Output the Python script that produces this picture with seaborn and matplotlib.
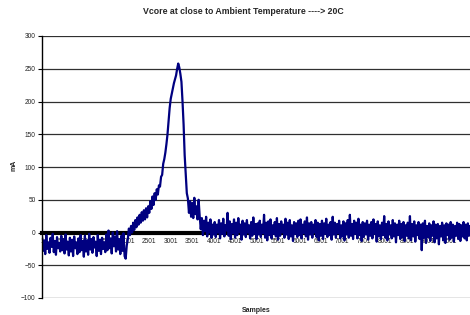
import numpy as np
import pandas as pd
import matplotlib
matplotlib.use("Agg")
import matplotlib.pyplot as plt
import seaborn as sns

# samples 1, 26, 51, ... (one value per 25 samples)
samples = np.arange(1, 10001, 25)

current_ma = [
    # 1 - 476
    -6, -28, -12, -33, -4, -25, -15, -31, -8, -22, -2, -30, -13, -34, -7, -24, -16, -29, -5, -27,
    # 501 - 976
    -10, -32, -3, -26, -14, -35, -8, -29, -11, -36, -6, -24, -15, -33, -9, -30, -4, -27, -13, -37,
    # 1001 - 1476
    -5, -29, -12, -34, -2, -26, -10, -31, -7, -23, -14, -36, -4, -28, -11, -33, -8, -25, -15, -30,
    # 1501 - 1976
    -3, -27, 3, -24, -9, -32, 0, -21, -6, -29, 2, -26, -10, -33, -5, -28, -1, -36, -40, -20,
    # 2001 - 2476
    -10, 6, -4, 10, 0, 15, 4, 19, 8, 23, 12, 27, 15, 31, 18, 34, 20, 37, 23, 40,
    # 2501 - 2976
    30, 48, 36, 55, 42, 60, 50, 66, 58, 72, 70, 85, 88, 105, 112, 122, 135, 150, 170, 190,
    # 3001 - 3476
    204, 212, 220, 228, 234, 240, 250, 258, 252, 242, 230, 200, 165, 118, 90, 60, 52, 30, 48, 24,
    # 3501 - 3976
    45, 22, 53, 28, 40, 20, 50, 25, 5, 22, -4, 18, 2, 24, -6, 15, 0, 20, -8, 12,
    # 4001 - 4476
    -3, 16, -7, 12, 0, 19, -9, 14, -2, 21, -6, 11, 3, 30, -5, 17, -10, 13, -1, 20,
    # 4501 - 4976
    -8, 15, -4, 22, 1, 12, -11, 18, -3, 14, -7, 19, 0, 11, -9, 16, -5, 23, -2, 13,
    # 5001 - 5476
    -10, 14, -3, 18, -7, 12, -1, 27, -8, 15, -12, 17, -4, 20, -9, 11, -2, 16, -6, 22,
    # 5501 - 5976
    -11, 13, -5, 17, 0, 12, -8, 21, -3, 15, -10, 19, -6, 11, -13, 16, -2, 14, -7, 18,
    # 6001 - 6476
    -4, 20, -9, 12, -1, 17, -6, 23, -11, 14, -3, 16, -8, 12, 0, 19, -7, 15, -12, 13,
    # 6501 - 6976
    -5, 18, -10, 14, -2, 21, -7, 12, -4, 16, -11, 24, -3, 15, -8, 13, -1, 18, -9, 11,
    # 7001 - 7476
    -6, 17, -12, 14, -3, 19, -8, 27, -5, 13, -10, 18, -2, 15, -9, 21, -4, 12, -13, 16,
    # 7501 - 7976
    -7, 14, -3, 18, -11, 12, -5, 16, -9, 20, -2, 13, -14, 17, -6, 11, -10, 15, -4, 25,
    # 8001 - 8476
    -8, 13, -12, 17, -3, 11, -9, 19, -6, 14, -15, 12, -4, 18, -10, 13, -7, 16, -13, 11,
    # 8501 - 8976
    -5, 15, -9, 25, -12, 13, -6, 17, -14, 11, -4, 16, -10, 12, -27, 14, -8, 18, -16, 10,
    # 9001 - 9476
    -7, 14, -13, 11, -5, 17, -15, 12, -9, 13, -18, 10, -6, 15, -12, 11, -16, 14, -4, 12,
    # 9501 - 9976
    -11, 16, -8, 12, -14, 10, -5, 15, -10, 13, -13, 11, -6, 16, -9, 12, -12, 14, -5, 10,
]

x_ticks = np.arange(1, 10000, 500)
x_labels = [str(t) for t in x_ticks]
y_ticks = list(range(-100, 301, 50))


def main():
    df = pd.DataFrame({"Samples": samples, "mA": current_ma})

    sns.set_style("white")
    plt.rcParams["font.family"] = ["Liberation Sans", "DejaVu Sans"]

    fig = plt.figure(figsize=(4.7, 3.15), dpi=100)
    ax = fig.add_axes([42 / 470, 17 / 315, 428 / 470, 262 / 315])

    sns.lineplot(data=df, x="Samples", y="mA", color="#000080",
                 linewidth=1.6, ax=ax, zorder=2)

    ax.set_xlim(1, 9976)
    ax.set_ylim(-100, 300)
    ax.set_axisbelow(True)
    ax.set_yticks(y_ticks)
    ax.yaxis.grid(True, color="#303030", linewidth=0.9)
    ax.xaxis.grid(False)

    # category axis crosses at 0, like Excel
    ax.spines["bottom"].set_position(("data", 0))
    ax.spines["bottom"].set_linewidth(3)
    ax.spines["bottom"].set_color("black")
    ax.spines["bottom"].set_zorder(1)
    ax.spines["left"].set_color("black")
    ax.spines["left"].set_linewidth(1)
    ax.spines["top"].set_visible(False)
    ax.spines["right"].set_visible(False)

    ax.set_xticks(x_ticks)
    ax.set_xticklabels(x_labels)
    ax.tick_params(axis="x", labelsize=4.7, length=2.5, width=0.8,
                   pad=1.5, colors="black", labelcolor="#222222")
    ax.tick_params(axis="y", labelsize=4.7, length=3, width=0.8,
                   pad=1.5, left=True, colors="black", labelcolor="#222222")
    ax.set_xlabel("")
    ax.set_ylabel("")

    fig.text(243 / 470, 1 - 12 / 315,
             "Vcore at close to Ambient Temperature ----> 20C",
             ha="center", va="center", fontsize=6.3, fontweight="bold")
    fig.text(256 / 470, 1 - 310 / 315, "Samples", ha="center", va="center",
             fontsize=5, fontweight="bold")
    fig.text(14 / 470, 1 - 165 / 315, "mA", ha="center", va="center",
             rotation=90, fontsize=5, fontweight="bold")

    fig.savefig("out.png", dpi=100)


if __name__ == "__main__":
    main()
